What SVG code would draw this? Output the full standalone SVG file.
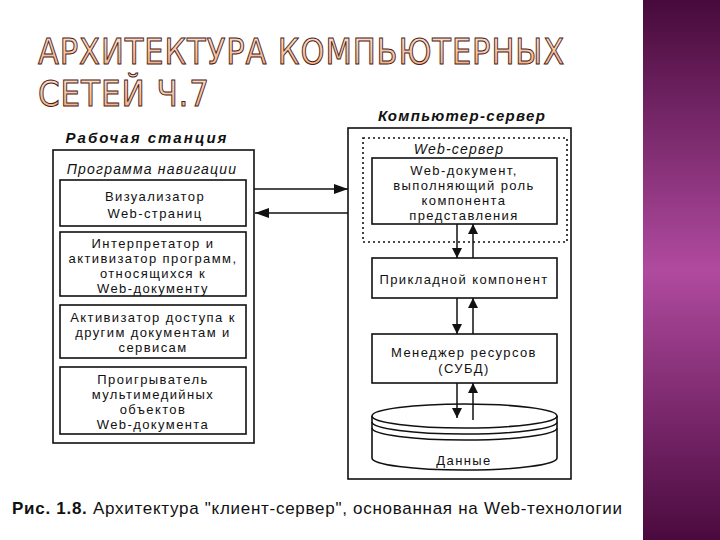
<svg xmlns="http://www.w3.org/2000/svg" width="720" height="540" viewBox="0 0 720 540">
<defs>
<linearGradient id="bar" x1="0" y1="0" x2="0" y2="1">
<stop offset="0" stop-color="#470a3b"/>
<stop offset="0.5" stop-color="#b04a9f"/>
<stop offset="1" stop-color="#4a0a3e"/>
</linearGradient>
<linearGradient id="titleFill" x1="0" y1="0" x2="0" y2="1">
<stop offset="0" stop-color="#fde6d2"/>
<stop offset="1" stop-color="#f0a873"/>
</linearGradient>
<marker id="ah" viewBox="0 0 10 10" refX="10" refY="5" markerWidth="10" markerHeight="10" markerUnits="userSpaceOnUse" orient="auto">
<path d="M0,0 L10,5 L0,10 Z" fill="#111"/>
</marker>
<marker id="ahw" viewBox="0 0 14 10" refX="14" refY="5" markerWidth="14" markerHeight="10" markerUnits="userSpaceOnUse" orient="auto">
<path d="M0,0 L14,5 L0,10 Z" fill="#111"/>
</marker>
</defs>
<style>
.title{font-family:"DejaVu Sans","Liberation Sans",sans-serif;font-size:35px;fill:url(#titleFill);stroke:#4a2020;stroke-width:1px;letter-spacing:1px}
.box{fill:#fff;stroke:#111;stroke-width:1.6}
.t{font-family:"Liberation Sans",Arial,sans-serif;font-size:13px;letter-spacing:1.4px;fill:#111;text-anchor:middle}
.hdr{font-family:"Liberation Sans",Arial,sans-serif;font-size:15px;font-weight:bold;font-style:italic;fill:#111;text-anchor:middle}
.it{font-family:"Liberation Sans",Arial,sans-serif;font-size:14px;letter-spacing:1.2px;font-style:italic;fill:#111;text-anchor:middle}
.line{stroke:#111;stroke-width:1.5;fill:none}
.cap{font-family:"Liberation Sans",Arial,sans-serif;font-size:17px;fill:#111}
</style>
<rect width="720" height="540" fill="#fff"/>
<rect x="643" y="0" width="77" height="540" fill="url(#bar)"/>
<g id="title">
<text class="title" x="38" y="64" textLength="527" lengthAdjust="spacingAndGlyphs">АРХИТЕКТУРА КОМПЬЮТЕРНЫХ</text>
<text class="title" x="38" y="106" textLength="172" lengthAdjust="spacingAndGlyphs">СЕТЕЙ Ч.7</text>
</g>
<g id="workstation">
<text class="hdr" x="147" y="143" letter-spacing="2">Рабочая станция</text>
<rect class="box" x="53" y="150" width="201" height="293"/>
<text class="it" x="152" y="174">Программа навигации</text>
</g>
<g id="visualizer">
<rect class="box" x="60" y="180" width="186" height="46"/>
<text class="t" x="155" y="201">Визуализатор</text>
<text class="t" x="155" y="218">Web-страниц</text>
</g>
<g id="interpreter">
<rect class="box" x="60" y="232" width="186" height="64"/>
<text class="t" x="153" y="248">Интерпретатор и</text>
<text class="t" x="153" y="263">активизатор программ,</text>
<text class="t" x="153" y="278">относящихся к</text>
<text class="t" x="153" y="293">Web-документу</text>
</g>
<g id="activator">
<rect class="box" x="60" y="305" width="186" height="53"/>
<text class="t" x="153" y="322">Активизатор доступа к</text>
<text class="t" x="153" y="337">другим документам и</text>
<text class="t" x="153" y="352">сервисам</text>
</g>
<g id="player">
<rect class="box" x="60" y="367" width="186" height="67"/>
<text class="t" x="153" y="384">Проигрыватель</text>
<text class="t" x="153" y="399">мультимедийных</text>
<text class="t" x="153" y="414">объектов</text>
<text class="t" x="153" y="429">Web-документа</text>
</g>
<g id="server">
<text class="hdr" x="462" y="121" letter-spacing="1.3">Компьютер-сервер</text>
<rect class="box" x="348" y="128" width="223" height="351"/>
</g>
<g id="webserver">
<rect x="363" y="138" width="204" height="104" fill="none" stroke="#111" stroke-width="1.6" stroke-dasharray="2,3"/>
<text class="it" x="459" y="154" letter-spacing="0.6">Web-сервер</text>
</g>
<g id="webdoc">
<rect class="box" x="372" y="158" width="185" height="66"/>
<text class="t" x="464" y="175">Web-документ,</text>
<text class="t" x="464" y="190">выполняющий роль</text>
<text class="t" x="464" y="205">компонента</text>
<text class="t" x="464" y="220">представления</text>
</g>
<g id="app">
<rect class="box" x="372" y="258" width="185" height="40"/>
<text class="t" x="464" y="284">Прикладной компонент</text>
</g>
<g id="dbms">
<rect class="box" x="372" y="334" width="185" height="49"/>
<text class="t" x="464" y="357">Менеджер ресурсов</text>
<text class="t" x="464" y="373">(СУБД)</text>
</g>
<g id="data">
<path class="box" d="M372,416 L372,458 A92,12 0 0 0 557,458 L557,416"/>
<ellipse class="box" cx="464.5" cy="416" rx="92.5" ry="12"/>
<path class="line" d="M372,422 A92.5,12 0 0 0 557,422"/>
<path class="line" d="M372,428 A92.5,12 0 0 0 557,428"/>
<text class="t" x="464" y="465">Данные</text>
</g>
<g id="connectors">
<line class="line" x1="254" y1="189" x2="348" y2="189" marker-end="url(#ahw)"/>
<line class="line" x1="348" y1="213" x2="255" y2="213" marker-end="url(#ahw)"/>
<line class="line" x1="457" y1="224" x2="457" y2="258" marker-end="url(#ah)"/>
<line class="line" x1="473" y1="258" x2="473" y2="224" marker-end="url(#ah)"/>
<line class="line" x1="457" y1="298" x2="457" y2="334" marker-end="url(#ah)"/>
<line class="line" x1="473" y1="334" x2="473" y2="298" marker-end="url(#ah)"/>
<line class="line" x1="457" y1="383" x2="457" y2="418" marker-end="url(#ah)"/>
<line class="line" x1="473" y1="420" x2="473" y2="383" marker-end="url(#ah)"/>
</g>
<g id="caption">
<text class="cap" x="12" y="514" textLength="610" lengthAdjust="spacing"><tspan font-weight="bold">Рис. 1.8.</tspan> Архитектура "клиент-сервер", основанная на Web-технологии</text>
</g>
</svg>
